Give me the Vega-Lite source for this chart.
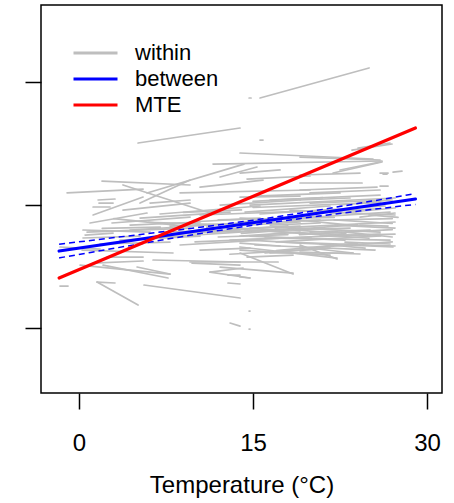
{
  "$schema": "https://vega.github.io/schema/vega-lite/v6.json",
  "width": 401,
  "height": 388,
  "autosize": "none",
  "padding": {"left": 41, "top": 5, "right": 12, "bottom": 110},
  "config": {
    "view": {"stroke": "#000000", "strokeWidth": 1.5},
    "font": "Liberation Sans",
    "axis": {"grid": false, "domain": false, "tickColor": "#000000", "tickWidth": 1.5, "tickSize": 16, "labelColor": "#000000", "titleColor": "#000000", "labelFont": "Liberation Sans", "titleFont": "Liberation Sans", "titleFontWeight": "normal"}
  },
  "datasets": {
    "within": [
      {"t0": 15.60, "y0": 0.870, "t1": 25.00, "y1": 1.114},
      {"t0": 14.66, "y0": 0.870, "t1": 14.83, "y1": 0.870},
      {"t0": 5.09, "y0": 0.504, "t1": 13.88, "y1": 0.626},
      {"t0": 15.60, "y0": 0.528, "t1": 15.86, "y1": 0.528},
      {"t0": 13.88, "y0": 0.423, "t1": 25.34, "y1": 0.374},
      {"t0": 23.53, "y0": 0.447, "t1": 26.98, "y1": 0.496},
      {"t0": 24.05, "y0": 0.463, "t1": 26.81, "y1": 0.504},
      {"t0": 11.55, "y0": 0.333, "t1": 26.12, "y1": 0.358},
      {"t0": 5.86, "y0": 0.098, "t1": 14.22, "y1": 0.333},
      {"t0": 21.90, "y0": 0.260, "t1": 26.12, "y1": 0.350},
      {"t0": 27.07, "y0": 0.268, "t1": 27.84, "y1": 0.276},
      {"t0": 26.21, "y0": 0.252, "t1": 26.55, "y1": 0.252},
      {"t0": 13.88, "y0": 0.260, "t1": 17.33, "y1": 0.285},
      {"t0": 12.16, "y0": 0.228, "t1": 15.34, "y1": 0.309},
      {"t0": 14.48, "y0": 0.211, "t1": 19.91, "y1": 0.236},
      {"t0": 10.43, "y0": 0.146, "t1": 15.86, "y1": 0.203},
      {"t0": 8.71, "y0": 0.098, "t1": 19.91, "y1": 0.122},
      {"t0": 19.05, "y0": 0.390, "t1": 25.95, "y1": 0.366},
      {"t0": 22.50, "y0": 0.285, "t1": 25.95, "y1": 0.350},
      {"t0": 19.05, "y0": 0.244, "t1": 24.22, "y1": 0.260},
      {"t0": 25.95, "y0": 0.260, "t1": 26.64, "y1": 0.260},
      {"t0": 19.05, "y0": 0.179, "t1": 24.40, "y1": 0.179},
      {"t0": 25.95, "y0": 0.154, "t1": 26.64, "y1": 0.154},
      {"t0": 19.05, "y0": 0.122, "t1": 25.69, "y1": 0.146},
      {"t0": 19.91, "y0": 0.098, "t1": 25.95, "y1": 0.122},
      {"t0": -1.03, "y0": 0.098, "t1": 5.52, "y1": 0.130},
      {"t0": 1.98, "y0": 0.195, "t1": 9.57, "y1": 0.163},
      {"t0": 3.79, "y0": 0.163, "t1": 11.29, "y1": -0.065},
      {"t0": 5.26, "y0": 0.016, "t1": 9.57, "y1": 0.203},
      {"t0": 1.64, "y0": 0.041, "t1": 3.10, "y1": 0.049},
      {"t0": 1.72, "y0": 0.016, "t1": 2.93, "y1": 0.016},
      {"t0": 1.21, "y0": -0.016, "t1": 2.67, "y1": -0.016},
      {"t0": 1.21, "y0": -0.081, "t1": 5.52, "y1": 0.065},
      {"t0": 0.95, "y0": -0.146, "t1": 5.86, "y1": -0.065},
      {"t0": 2.84, "y0": -0.146, "t1": 9.57, "y1": -0.098},
      {"t0": 3.79, "y0": -0.041, "t1": 9.57, "y1": 0.016},
      {"t0": 0.69, "y0": -0.220, "t1": 9.57, "y1": -0.187},
      {"t0": 0.52, "y0": -0.244, "t1": 2.93, "y1": -0.228},
      {"t0": 6.12, "y0": 0.016, "t1": 9.57, "y1": 0.041},
      {"t0": 6.98, "y0": -0.073, "t1": 15.60, "y1": -0.008},
      {"t0": -1.64, "y0": -0.659, "t1": -0.95, "y1": -0.659},
      {"t0": 0.09, "y0": -0.488, "t1": 7.84, "y1": -0.561},
      {"t0": 1.21, "y0": -0.472, "t1": 5.52, "y1": -0.455},
      {"t0": 5.00, "y0": -0.504, "t1": 7.84, "y1": -0.561},
      {"t0": 2.07, "y0": -0.488, "t1": 7.67, "y1": -0.593},
      {"t0": 1.55, "y0": -0.626, "t1": 3.10, "y1": -0.634},
      {"t0": 1.55, "y0": -0.626, "t1": 5.09, "y1": -0.813},
      {"t0": 5.60, "y0": -0.650, "t1": 13.88, "y1": -0.756},
      {"t0": 9.74, "y0": -0.472, "t1": 13.88, "y1": -0.488},
      {"t0": 11.29, "y0": -0.545, "t1": 14.14, "y1": -0.512},
      {"t0": 11.29, "y0": -0.545, "t1": 14.74, "y1": -0.593},
      {"t0": 12.84, "y0": -0.569, "t1": 13.88, "y1": -0.569},
      {"t0": 12.84, "y0": -0.634, "t1": 13.88, "y1": -0.642},
      {"t0": 13.02, "y0": -0.959, "t1": 13.88, "y1": -0.984},
      {"t0": 14.66, "y0": -0.862, "t1": 14.74, "y1": -0.862},
      {"t0": 14.66, "y0": -1.008, "t1": 14.74, "y1": -1.008},
      {"t0": 13.88, "y0": -0.390, "t1": 18.45, "y1": -0.561},
      {"t0": 14.48, "y0": -0.423, "t1": 18.45, "y1": -0.407},
      {"t0": 19.05, "y0": -0.325, "t1": 22.24, "y1": -0.439},
      {"t0": 19.05, "y0": -0.341, "t1": 23.62, "y1": -0.390},
      {"t0": 19.05, "y0": -0.309, "t1": 27.07, "y1": -0.341},
      {"t0": 24.22, "y0": -0.244, "t1": 24.66, "y1": -0.244},
      {"t0": 13.88, "y0": -0.585, "t1": 14.74, "y1": -0.593},
      {"t0": 0.26, "y0": -0.366, "t1": 8.10, "y1": -0.390},
      {"t0": 2.41, "y0": -0.423, "t1": 5.52, "y1": -0.423},
      {"t0": 9.57, "y0": -0.463, "t1": 17.16, "y1": -0.463},
      {"t0": 6.38, "y0": -0.447, "t1": 13.88, "y1": -0.463},
      {"t0": -1.64, "y0": -0.341, "t1": 1.81, "y1": -0.358},
      {"t0": 4.40, "y0": -0.203, "t1": 15.60, "y1": -0.138},
      {"t0": 6.12, "y0": -0.268, "t1": 19.05, "y1": -0.187},
      {"t0": 7.84, "y0": -0.171, "t1": 20.78, "y1": -0.122},
      {"t0": 10.43, "y0": -0.081, "t1": 21.64, "y1": -0.041},
      {"t0": 11.29, "y0": -0.220, "t1": 23.36, "y1": -0.187},
      {"t0": 13.02, "y0": -0.285, "t1": 25.95, "y1": -0.236},
      {"t0": 13.88, "y0": -0.138, "t1": 26.81, "y1": -0.057},
      {"t0": 14.31, "y0": -0.203, "t1": 25.09, "y1": -0.252},
      {"t0": 14.74, "y0": 0.000, "t1": 27.24, "y1": 0.057},
      {"t0": 15.17, "y0": -0.325, "t1": 25.52, "y1": -0.366},
      {"t0": 15.60, "y0": -0.073, "t1": 26.38, "y1": -0.008},
      {"t0": 16.03, "y0": -0.268, "t1": 26.81, "y1": -0.285},
      {"t0": 16.47, "y0": 0.041, "t1": 25.95, "y1": 0.081},
      {"t0": 16.90, "y0": -0.187, "t1": 27.24, "y1": -0.138},
      {"t0": 13.88, "y0": -0.366, "t1": 21.64, "y1": -0.407},
      {"t0": 17.33, "y0": -0.106, "t1": 24.22, "y1": -0.171},
      {"t0": 17.76, "y0": -0.301, "t1": 27.24, "y1": -0.333},
      {"t0": 18.19, "y0": -0.041, "t1": 27.24, "y1": -0.081},
      {"t0": 13.88, "y0": -0.252, "t1": 19.05, "y1": -0.220},
      {"t0": 19.05, "y0": -0.187, "t1": 25.95, "y1": -0.220},
      {"t0": 19.91, "y0": 0.016, "t1": 26.81, "y1": 0.041},
      {"t0": 20.78, "y0": -0.252, "t1": 27.24, "y1": -0.236},
      {"t0": 14.31, "y0": -0.057, "t1": 21.64, "y1": -0.008},
      {"t0": 15.17, "y0": 0.073, "t1": 22.50, "y1": 0.098},
      {"t0": 12.16, "y0": 0.000, "t1": 19.05, "y1": 0.041},
      {"t0": 9.57, "y0": -0.138, "t1": 15.60, "y1": -0.106},
      {"t0": 6.98, "y0": -0.220, "t1": 13.88, "y1": -0.203},
      {"t0": 5.26, "y0": -0.106, "t1": 13.02, "y1": -0.057},
      {"t0": 8.71, "y0": -0.325, "t1": 15.60, "y1": -0.285},
      {"t0": 13.02, "y0": -0.171, "t1": 19.05, "y1": -0.138},
      {"t0": 19.05, "y0": -0.382, "t1": 24.22, "y1": -0.398},
      {"t0": 16.03, "y0": -0.390, "t1": 21.64, "y1": -0.350},
      {"t0": 21.64, "y0": -0.073, "t1": 27.24, "y1": -0.024},
      {"t0": 13.88, "y0": 0.065, "t1": 19.05, "y1": 0.073},
      {"t0": 3.53, "y0": -0.285, "t1": 10.43, "y1": -0.252},
      {"t0": 1.81, "y0": -0.317, "t1": 7.84, "y1": -0.301},
      {"t0": 22.93, "y0": -0.301, "t1": 26.81, "y1": -0.317},
      {"t0": 14.74, "y0": -0.252, "t1": 22.93, "y1": -0.285},
      {"t0": 16.47, "y0": -0.163, "t1": 20.78, "y1": -0.146},
      {"t0": 22.07, "y0": -0.163, "t1": 27.24, "y1": -0.187},
      {"t0": 13.88, "y0": -0.309, "t1": 17.33, "y1": -0.333},
      {"t0": 10.43, "y0": -0.366, "t1": 14.74, "y1": -0.350},
      {"t0": 19.05, "y0": 0.041, "t1": 23.36, "y1": 0.057},
      {"t0": 24.22, "y0": -0.098, "t1": 27.24, "y1": -0.065},
      {"t0": 13.88, "y0": -0.106, "t1": 16.47, "y1": -0.114},
      {"t0": 20.78, "y0": -0.317, "t1": 24.66, "y1": -0.350},
      {"t0": 13.88, "y0": -0.341, "t1": 22.24, "y1": -0.431},
      {"t0": 16.47, "y0": -0.390, "t1": 23.62, "y1": -0.390},
      {"t0": 12.16, "y0": -0.504, "t1": 18.45, "y1": -0.553},
      {"t0": 0.34, "y0": -0.203, "t1": 6.12, "y1": -0.220},
      {"t0": 0.34, "y0": -0.268, "t1": 5.26, "y1": -0.252},
      {"t0": 4.40, "y0": -0.163, "t1": 10.43, "y1": -0.138},
      {"t0": 14.74, "y0": -0.187, "t1": 19.05, "y1": -0.171},
      {"t0": 19.91, "y0": -0.220, "t1": 25.09, "y1": -0.203},
      {"t0": 15.17, "y0": -0.122, "t1": 20.78, "y1": -0.089},
      {"t0": 22.50, "y0": 0.000, "t1": 26.98, "y1": 0.041},
      {"t0": 14.74, "y0": -0.285, "t1": 19.05, "y1": -0.309},
      {"t0": 24.22, "y0": -0.163, "t1": 26.64, "y1": -0.171},
      {"t0": 8.0, "y0": -0.24, "t1": 18.0, "y1": -0.17},
      {"t0": 10.0, "y0": -0.30, "t1": 20.0, "y1": -0.26},
      {"t0": 12.0, "y0": -0.12, "t1": 22.0, "y1": -0.10},
      {"t0": 14.0, "y0": -0.23, "t1": 24.0, "y1": -0.16},
      {"t0": 15.0, "y0": -0.02, "t1": 26.0, "y1": 0.02},
      {"t0": 16.0, "y0": -0.21, "t1": 25.0, "y1": -0.27},
      {"t0": 17.0, "y0": -0.30, "t1": 26.0, "y1": -0.25},
      {"t0": 18.0, "y0": -0.13, "t1": 27.0, "y1": -0.11},
      {"t0": 13.0, "y0": -0.40, "t1": 20.0, "y1": -0.36},
      {"t0": 19.0, "y0": -0.24, "t1": 27.0, "y1": -0.20},
      {"t0": 20.0, "y0": -0.06, "t1": 26.0, "y1": -0.03},
      {"t0": 21.0, "y0": -0.34, "t1": 27.0, "y1": -0.30},
      {"t0": 11.0, "y0": -0.18, "t1": 17.0, "y1": -0.20},
      {"t0": 6.0, "y0": -0.14, "t1": 12.0, "y1": -0.16},
      {"t0": 9.0, "y0": -0.06, "t1": 14.0, "y1": -0.04},
      {"t0": 3.0, "y0": -0.11, "t1": 9.0, "y1": -0.17},
      {"t0": 17.0, "y0": -0.37, "t1": 24.0, "y1": -0.31},
      {"t0": 22.0, "y0": -0.12, "t1": 27.0, "y1": -0.15},
      {"t0": 15.0, "y0": 0.03, "t1": 21.0, "y1": 0.06},
      {"t0": 23.0, "y0": -0.22, "t1": 27.0, "y1": -0.26},
      {"t0": 12.0, "y0": -0.26, "t1": 18.0, "y1": -0.24},
      {"t0": 18.0, "y0": -0.20, "t1": 23.0, "y1": -0.23},
      {"t0": 25.0, "y0": -0.08, "t1": 27.5, "y1": -0.10},
      {"t0": 2.0, "y0": -0.19, "t1": 7.0, "y1": -0.18}
    ],
    "fits": [
      {"series": "between", "t0": -1.72, "y0": -0.374, "t1": 29.0, "y1": 0.049},
      {"series": "MTE", "t0": -1.72, "y0": -0.593, "t1": 29.0, "y1": 0.626}
    ],
    "band": [
      {"bound": "upper", "t": -1.72, "y": -0.318},
      {"bound": "upper", "t": 1, "y": -0.288},
      {"bound": "upper", "t": 4, "y": -0.254},
      {"bound": "upper", "t": 7, "y": -0.220},
      {"bound": "upper", "t": 10, "y": -0.186},
      {"bound": "upper", "t": 13, "y": -0.149},
      {"bound": "upper", "t": 16, "y": -0.110},
      {"bound": "upper", "t": 19, "y": -0.066},
      {"bound": "upper", "t": 22, "y": -0.020},
      {"bound": "upper", "t": 25, "y": 0.028},
      {"bound": "upper", "t": 29, "y": 0.093},
      {"bound": "lower", "t": -1.72, "y": -0.430},
      {"bound": "lower", "t": 1, "y": -0.385},
      {"bound": "lower", "t": 4, "y": -0.336},
      {"bound": "lower", "t": 7, "y": -0.287},
      {"bound": "lower", "t": 10, "y": -0.239},
      {"bound": "lower", "t": 13, "y": -0.193},
      {"bound": "lower", "t": 16, "y": -0.150},
      {"bound": "lower", "t": 19, "y": -0.111},
      {"bound": "lower", "t": 22, "y": -0.074},
      {"bound": "lower", "t": 25, "y": -0.039},
      {"bound": "lower", "t": 29, "y": 0.005}
    ]
  },
  "layer": [
    {
      "data": {"name": "within"},
      "transform": [{"calculate": "'within'", "as": "series"}],
      "mark": {"type": "rule", "strokeWidth": 1.7, "strokeCap": "round"},
      "encoding": {
        "x": {"field": "t0", "type": "quantitative",
          "scale": {"domain": [-3.28, 31.29], "nice": false, "zero": false},
          "axis": {"values": [0, 15, 30], "labelFontSize": 24, "labelPadding": 22, "title": "Temperature (°C)", "titleFontSize": 24, "titlePadding": 18}},
        "y": {"field": "y0", "type": "quantitative",
          "scale": {"domain": [-1.528, 1.626], "nice": false, "zero": false},
          "axis": {"values": [-1, 0, 1], "labels": false, "title": null}},
        "x2": {"field": "t1"},
        "y2": {"field": "y1"},
        "color": {"field": "series", "type": "nominal",
          "scale": {"domain": ["within", "between", "MTE"], "range": ["#BEBEBE", "#0000FF", "#FF0000"]},
          "legend": {"title": null, "orient": "none", "legendX": 31, "legendY": 37, "padding": 0, "symbolType": "stroke", "symbolSize": 1936, "symbolStrokeWidth": 3, "clipHeight": 22, "rowPadding": 4, "labelFontSize": 22, "labelOffset": 16, "labelColor": "#000000", "labelFont": "Liberation Sans"}}
      }
    },
    {
      "data": {"name": "band"},
      "mark": {"type": "line", "color": "#0000FF", "strokeWidth": 1.5, "strokeDash": [6, 4], "interpolate": "monotone"},
      "encoding": {
        "x": {"field": "t", "type": "quantitative"},
        "y": {"field": "y", "type": "quantitative"},
        "detail": {"field": "bound"}
      }
    },
    {
      "data": {"name": "fits"},
      "mark": {"type": "rule", "strokeWidth": 3.2, "strokeCap": "round"},
      "encoding": {
        "x": {"field": "t0", "type": "quantitative"},
        "y": {"field": "y0", "type": "quantitative"},
        "x2": {"field": "t1"},
        "y2": {"field": "y1"},
        "color": {"field": "series", "type": "nominal"}
      }
    }
  ]
}
